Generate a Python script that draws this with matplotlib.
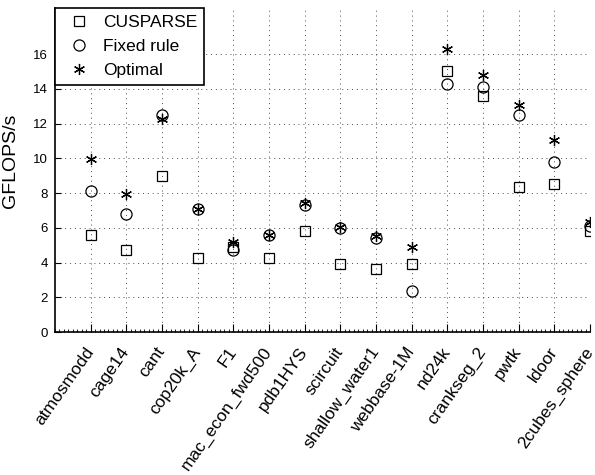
import numpy as np
import matplotlib.pyplot as plt
from matplotlib.ticker import MultipleLocator

plt.rcParams['font.family'] = ['Liberation Sans', 'DejaVu Sans']

matrices = ['atmosmodd', 'cage14', 'cant', 'cop20k_A', 'F1', 'mac_econ_fwd500',
            'pdb1HYS', 'scircuit', 'shallow_water1', 'webbase-1M', 'nd24k',
            'crankseg_2', 'pwtk', 'ldoor', '2cubes_sphere']
cusparse = [5.59, 4.70, 9.00, 4.24, 4.90, 4.24, 5.84, 3.93, 3.61, 3.90,
            15.06, 13.59, 8.37, 8.50, 5.84]
fixed_rule = [8.12, 6.78, 12.50, 7.08, 4.72, 5.59, 7.30, 5.97, 5.40, 2.38,
              14.27, 14.09, 12.50, 9.81, 6.10]
optimal = [9.95, 7.95, 12.25, 7.08, 5.20, 5.59, 7.45, 6.07, 5.53, 4.91,
           16.28, 14.78, 13.08, 11.04, 6.35]

x = np.arange(1, len(matrices) + 1)
asterisk = (6, 2, 0)

fig = plt.figure(figsize=(5.95, 4.75), dpi=100)
ax = fig.add_axes([0.0924, 0.301, 0.8992, 0.682])

ax.plot(x, cusparse, linestyle='none', marker='s', markersize=6.5,
        markerfacecolor='none', markeredgecolor='black', markeredgewidth=0.9,
        label='CUSPARSE')
ax.plot(x, fixed_rule, linestyle='none', marker='o', markersize=8,
        markerfacecolor='none', markeredgecolor='black', markeredgewidth=0.9,
        label='Fixed rule')
ax.plot(x, optimal, linestyle='none', marker=asterisk, markersize=8,
        markerfacecolor='black', markeredgecolor='black', markeredgewidth=0.9,
        label='Optimal')

ax.set_xlim(0, 15)
ax.set_ylim(0, 18.66)
ax.set_yticks(np.arange(0, 17, 2))
ax.set_xticks(x)
ax.set_xticklabels(matrices, rotation=55, ha='right', va='center',
                   rotation_mode='anchor', fontsize=12.5)
ax.xaxis.set_minor_locator(MultipleLocator(0.125))
ax.tick_params(axis='x', which='major', direction='in', length=6, width=0.8,
               pad=12)
ax.tick_params(axis='x', which='minor', direction='in', length=2.5, width=0.6)
ax.tick_params(axis='y', which='major', direction='in', length=4, width=0.8,
               labelsize=9.5, pad=5)
ax.set_ylabel('GFLOPS/s', fontsize=14)
ax.yaxis.set_label_coords(-0.067, 0.528)

ax.grid(True, which='major', linestyle=(0, (1, 4)), color='black',
        linewidth=0.7, alpha=0.7)
ax.set_axisbelow(True)
ax.spines['top'].set_visible(False)
ax.spines['right'].set_visible(False)
for sp in ['left', 'bottom']:
    ax.spines[sp].set_linewidth(1.2)

leg = ax.legend(loc='upper left', fontsize=12.5, frameon=True, fancybox=False,
                borderaxespad=0, handletextpad=0.35, labelspacing=0.5,
                borderpad=0.4, handlelength=2.0)
leg.get_frame().set_edgecolor('black')
leg.get_frame().set_linewidth(1.2)
leg.get_frame().set_alpha(1)

fig.savefig('out.png', dpi=100)
